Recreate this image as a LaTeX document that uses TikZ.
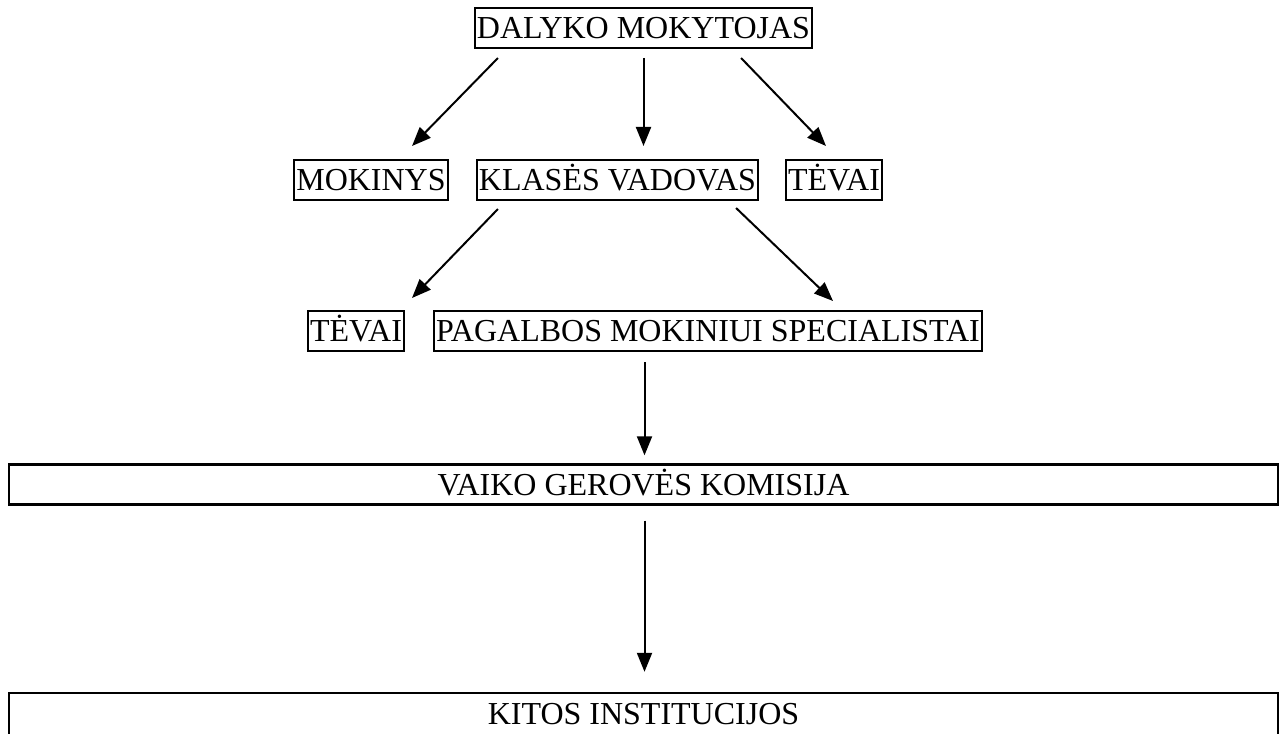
\documentclass[tikz,border=0pt]{standalone}
\usepackage{fontspec}
\setmainfont{Liberation Serif}
\usetikzlibrary{positioning, arrows.meta, calc}

\tikzset{
  box/.style={draw, line width=2pt, inner xsep=2pt, inner ysep=0pt,
    minimum height=40, text height=21.5, text depth=0pt,
    font=\fontsize{32}{38}\selectfont},
  widebox/.style={box, line width=2.4pt, minimum width=1269},
  arr/.style={line width=2pt, -{Triangle[length=19pt,width=15pt]}}
}

\begin{document}
\begin{tikzpicture}[x=1pt, y=-1pt]
\useasboundingbox (0,0) rectangle (1284,733);
% top
\node[box] (dalyko) at (643.5,28) {DALYKO MOKYTOJAS};
% second row
\node[box] (mokinys) at (371,180) {MOKINYS};
\node[box] (klases) at (617.5,180) {KLASĖS VADOVAS};
\node[box] (tevaiA) at (834,180) {TĖVAI};
% third row
\node[box] (tevaiB) at (356,331) {TĖVAI};
\node[box] (pagalbos) at (708,331) {PAGALBOS MOKINIUI SPECIALISTAI};
% wide boxes
\node[widebox] (vaiko) at (643.5,484.5) {VAIKO GEROVĖS KOMISIJA};
\node[widebox, minimum height=42] (kitos) at (643.5,714) {KITOS INSTITUCIJOS};
% arrows
\draw[arr] ($(dalyko.south west)+(24,9)$) -- ($(mokinys.north)+(41,-13)$);
\draw[arr] ($(dalyko.south)+(0,9)$) -- ($(dalyko.south |- klases.north)+(0,-13)$);
\draw[arr] ($(dalyko.south east)+(-72,9)$) -- ($(tevaiA.north)+(-8,-13)$);
\draw[arr] ($(klases.south west)+(22,8)$) -- ($(tevaiB.north)+(56,-12)$);
\draw[arr] ($(klases.south east)+(-23,7)$) -- ($(pagalbos.north)+(125,-9)$);
\draw[arr] ($(vaiko.north |- pagalbos.south)+(1,10)$) -- ($(vaiko.north)+(1,-8)$);
\draw[arr] ($(vaiko.south)+(1,15)$) -- ($(kitos.north)+(1,-20)$);
\end{tikzpicture}
\end{document}
